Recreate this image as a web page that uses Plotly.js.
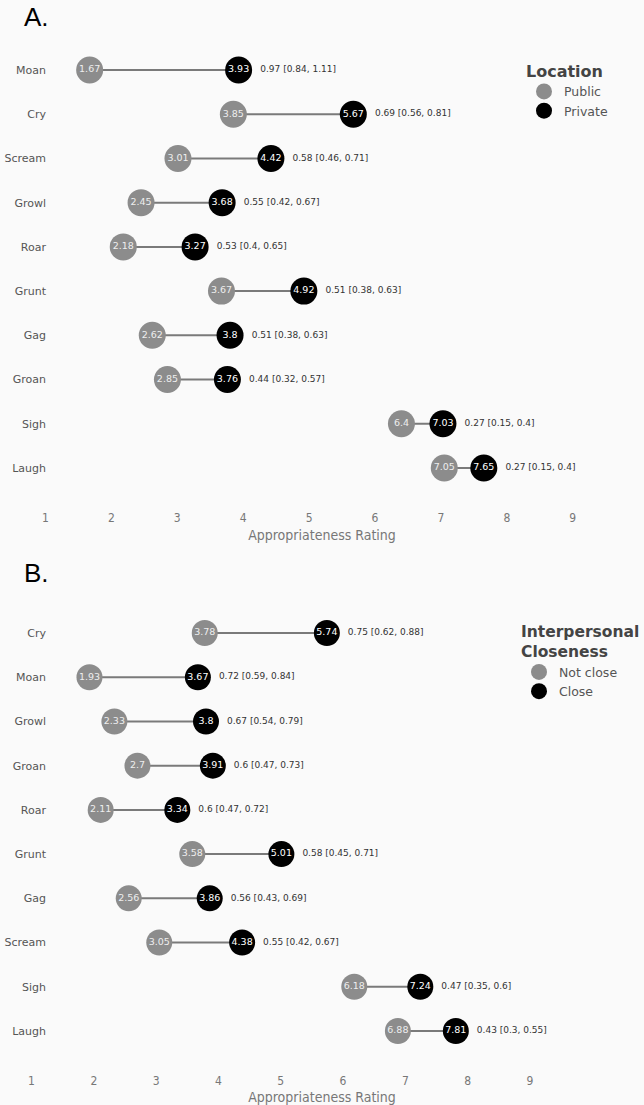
<!DOCTYPE html>
<html>
<head>
<meta charset="utf-8">
<script src="https://cdn.plot.ly/plotly-3.0.1.min.js"></script>
<style>html,body{margin:0;padding:0;background:#fafafa;}</style>
</head>
<body>
<div id="chart" style="width:644px;height:1105px;"></div>
<script>
// Panel A: Location
const catsA = ['Moan','Cry','Scream','Growl','Roar','Grunt','Gag','Groan','Sigh','Laugh'];
const publicA = [1.67,3.85,3.01,2.45,2.18,3.67,2.62,2.85,6.4,7.05];
const privateA = [3.93,5.67,4.42,3.68,3.27,4.92,3.8,3.76,7.03,7.65];
const effectA = ['0.97 [0.84, 1.11]','0.69 [0.56, 0.81]','0.58 [0.46, 0.71]','0.55 [0.42, 0.67]','0.53 [0.4, 0.65]','0.51 [0.38, 0.63]','0.51 [0.38, 0.63]','0.44 [0.32, 0.57]','0.27 [0.15, 0.4]','0.27 [0.15, 0.4]'];

// Panel B: Interpersonal closeness
const catsB = ['Cry','Moan','Growl','Groan','Roar','Grunt','Gag','Scream','Sigh','Laugh'];
const notCloseB = [3.78,1.93,2.33,2.7,2.11,3.58,2.56,3.05,6.18,6.88];
const closeB = [5.74,3.67,3.8,3.91,3.34,5.01,3.86,4.38,7.24,7.81];
const effectB = ['0.75 [0.62, 0.88]','0.72 [0.59, 0.84]','0.67 [0.54, 0.79]','0.6 [0.47, 0.73]','0.6 [0.47, 0.72]','0.58 [0.45, 0.71]','0.56 [0.43, 0.69]','0.55 [0.42, 0.67]','0.47 [0.35, 0.6]','0.43 [0.3, 0.55]'];

const ticksX = [1,2,3,4,5,6,7,8,9];

const GRAY = '#8c8c8c';
const BLACK = '#000000';
const FONT = 'DejaVu Sans, Verdana, sans-serif';

function segs(cats, a, b) {
  const x = [], y = [];
  cats.forEach((c, i) => { x.push(a[i], b[i], null); y.push(c, c, null); });
  return {x, y};
}

function panel(cats, lo, hi, eff, names, xa, ya, leg, msize) {
  const s = segs(cats, lo, hi);
  return [
    {type:'scatter', mode:'lines', x:s.x, y:s.y, xaxis:xa, yaxis:ya,
     line:{color:'#7a7a7a', width:2}, showlegend:false, hoverinfo:'skip'},
    {type:'scatter', mode:'markers+text', name:names[0], x:lo, y:cats, xaxis:xa, yaxis:ya, legend:leg,
     marker:{color:GRAY, size:msize}, text:lo.map(String), textposition:'middle center',
     textfont:{family:FONT, size:9.5, color:'#eeeeee'}, hoverinfo:'skip'},
    {type:'scatter', mode:'markers+text', name:names[1], x:hi, y:cats, xaxis:xa, yaxis:ya, legend:leg,
     marker:{color:BLACK, size:msize}, text:hi.map(String), textposition:'middle center',
     textfont:{family:FONT, size:9.5, color:'#ffffff'}, hoverinfo:'skip'},
    {type:'scatter', mode:'markers+text', x:hi, y:cats, xaxis:xa, yaxis:ya, showlegend:false,
     marker:{color:'rgba(0,0,0,0)', size:msize+6}, text:eff, textposition:'middle right',
     textfont:{family:FONT, size:9, color:'#333333'}, hoverinfo:'skip'}
  ];
}

const data = [].concat(
  panel(catsA, publicA, privateA, effectA, ['Public','Private'], 'x', 'y', 'legend', 27),
  panel(catsB, notCloseB, closeB, effectB, ['Not close','Close'], 'x2', 'y2', 'legend2', 26)
);

const H = 1105, W = 644;
const py = px => 1 - px / H;

const xaxBase = {
  showgrid:false, zeroline:false, showline:false, ticks:'',
  tickvals:ticksX, ticklabelstandoff:4,
  tickfont:{family:'DejaVu Sans Condensed, DejaVu Sans', size:12, color:'#777777'},
  title:{text:'Appropriateness Rating', font:{family:'DejaVu Sans Condensed, DejaVu Sans', size:14, color:'#777777'}, standoff:6},
  fixedrange:true
};
const yaxBase = {
  type:'category', showgrid:false, zeroline:false, showline:false, ticks:'',
  tickfont:{family:FONT, size:11, color:'#555555'}, anchor:'free', position:46/W, fixedrange:true
};

const legFont = {family:FONT, size:12.5, color:'#555555'};

const layout = {
  width:W, height:H,
  margin:{l:0, r:0, t:0, b:0, autoexpand:false},
  paper_bgcolor:'#fafafa', plot_bgcolor:'#fafafa',
  showlegend:true,
  xaxis:Object.assign({}, xaxBase, {domain:[0,1], anchor:'y', range:[0.31, 10.08]}),
  yaxis:Object.assign({}, yaxBase, {domain:[py(505), py(26)], categoryarray:catsA, categoryorder:'array', range:[9.837, -0.995]}),
  xaxis2:Object.assign({}, xaxBase, {domain:[0,1], anchor:'y2', range:[0.494, 10.83]}),
  yaxis2:Object.assign({}, yaxBase, {domain:[py(1068), py(590)], categoryarray:catsB, categoryorder:'array', range:[9.837, -0.973]}),
  legend:{x:524/W, y:py(56), xanchor:'left', yanchor:'top', bgcolor:'rgba(0,0,0,0)',
    title:{text:'<b>Location</b>', font:{family:FONT, size:16, color:'#444444'}},
    font:legFont, tracegroupgap:0},
  legend2:{x:519/W, y:py(617), xanchor:'left', yanchor:'top', bgcolor:'rgba(0,0,0,0)',
    title:{text:'<b>Interpersonal<br>Closeness</b>', font:{family:FONT, size:15.5, color:'#444444'}},
    font:legFont, tracegroupgap:0},
  annotations:[
    {text:'A.', xref:'paper', yref:'paper', x:22/W, y:py(0), xanchor:'left', yanchor:'top', showarrow:false,
     font:{family:'Liberation Sans, Arial, sans-serif', size:26, color:'#000000'}},
    {text:'B.', xref:'paper', yref:'paper', x:22/W, y:py(556), xanchor:'left', yanchor:'top', showarrow:false,
     font:{family:'Liberation Sans, Arial, sans-serif', size:26, color:'#000000'}}
  ]
};

Plotly.newPlot('chart', data, layout, {displayModeBar:false, staticPlot:true});
</script>
</body>
</html>
